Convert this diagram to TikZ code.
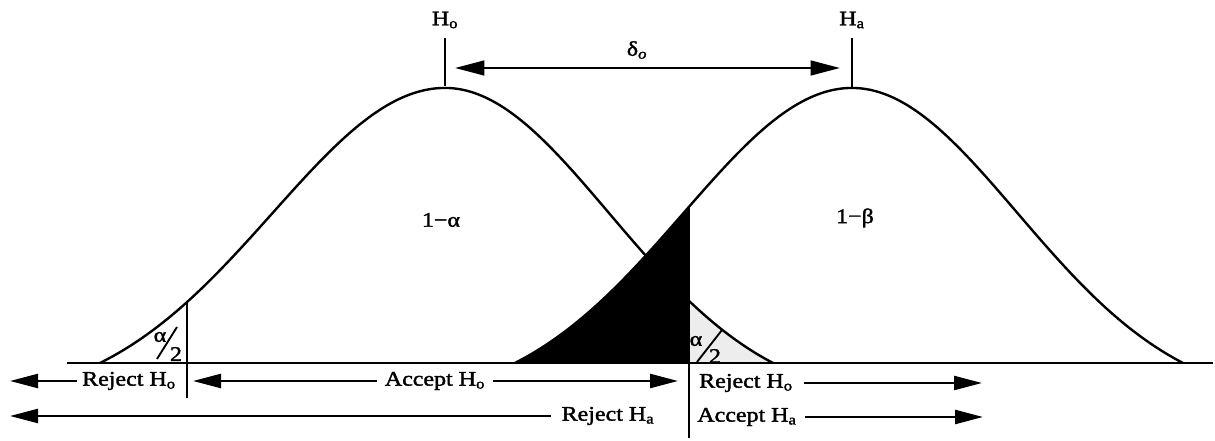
\documentclass[tikz,border=0pt]{standalone}
\usepackage{fontspec}
\setmainfont{Liberation Serif}[FakeStretch=1.16,FakeBold=1.8]
\usetikzlibrary{arrows.meta}
\begin{document}
\begin{tikzpicture}[x=0.75pt,y=-0.75pt,
  declare function={g(\da,\wa)=(exp(-2*(\da/\wa)^2)-exp(-2))/(1-exp(-2));},
  curve/.style={line width=1.8pt, line join=round},
  lbl/.style={inner sep=0pt, font=\fontsize{15.5}{18}\selectfont},
  arr/.style={line width=1.8pt, -{Triangle[length=21pt,width=10.5pt]}},
  darr/.style={line width=1.8pt, {Triangle[length=22pt,width=11pt]}-{Triangle[length=22pt,width=11pt]}},
  rule/.style={line width=1.5pt},
  slash/.style={line width=1.4pt}]
\useasboundingbox (0,0) rectangle (1215,441);

% shaded regions
\fill[black] plot[domain=515:689,samples=60] (\x,{363-275*g(\x-852,337)}) -- (689,363) -- cycle;
\fill[black!7] (689,363) -- plot[domain=689:773,samples=30] (\x,{363-275*g(\x-445,328)}) -- cycle;

% curves
\draw[curve] plot[domain=100:445,samples=90] (\x,{363-275*g(\x-445,345)})
  -- plot[domain=445:773,samples=90] (\x,{363-275*g(\x-445,328)});
\draw[curve] plot[domain=515:852,samples=90] (\x,{363-275*g(\x-852,337)})
  -- plot[domain=852:1183,samples=90] (\x,{363-275*g(\x-852,331)});

% baseline
\coordinate (bl) at (67,363);
\coordinate (br) at (1213,363);
\draw[line width=2pt] (bl) -- (br);

% critical lines
\coordinate (cl1t) at (187,303);
\coordinate (cl1b) at (187,398);
\draw[rule] (cl1t) -- (cl1b);
\coordinate (cl2t) at (689,208);
\coordinate (cl2b) at (689,438);
\draw[rule] (cl2t) -- (cl2b);

% hypotheses markers
\node[lbl] (h0) at (445,20) {H\textsubscript{o}};
\node[lbl] (ha) at (852,20) {H\textsubscript{a}};
\coordinate (h0t) at (445,38);
\coordinate (h0b) at (445,86);
\coordinate (hat) at (852,38);
\coordinate (hab) at (852,87);
\draw[rule] (h0t) -- (h0b);
\draw[rule] (hat) -- (hab);

% delta
\node[lbl] (delta) at (637,50) {δ\textsubscript{\itshape o}};
\coordinate (dl) at (455,68);
\coordinate (dr) at (840,68);
\draw[darr] (dl) -- (dr);

% area labels
\node[lbl] (oma) at (441,220) {1−α};
\node[lbl] (omb) at (855,218) {1−β};

% alpha/2 labels
\node[lbl] (al) at (160,337) {α};
\node[lbl] (tl) at (176,354) {2};
\coordinate (sl1) at (157,359);
\coordinate (sl2) at (177,327);
\draw[slash] (sl1) -- (sl2);
\node[lbl] (ar) at (696,341) {α};
\node[lbl] (tr) at (715,356) {2};
\coordinate (sr1) at (697,362);
\coordinate (sr2) at (722,330);
\draw[slash] (sr1) -- (sr2);

% bottom decisions
\node[lbl] (rej0L) at (129,381) {Reject H\textsubscript{o}};
\coordinate (rej0Ltip) at (10,381);
\draw[arr] ([xshift=-4pt]rej0L.west) -- (rej0Ltip);

\node[lbl] (acc0) at (435,381) {Accept H\textsubscript{o}};
\coordinate (acc0L) at (193,381);
\coordinate (acc0R) at (678,381);
\draw[arr] ([xshift=-6pt]acc0.west) -- (acc0L);
\draw[arr] ([xshift=6pt]acc0.east) -- (acc0R);

\node[lbl] (rej0R) at (746,383) {Reject H\textsubscript{o}};
\coordinate (rej0Rtip) at (982,383);
\draw[arr] ([xshift=8pt]rej0R.east) -- (rej0Rtip);

\node[lbl] (rejaL) at (608,416) {Reject H\textsubscript{a}};
\coordinate (rejaLtip) at (10,416);
\draw[arr] ([xshift=-8pt]rejaL.west) -- (rejaLtip);

\node[lbl] (accaR) at (747,417) {Accept H\textsubscript{a}};
\coordinate (accaRtip) at (983,417);
\draw[arr] ([xshift=6pt]accaR.east) -- (accaRtip);
\end{tikzpicture}
\end{document}
